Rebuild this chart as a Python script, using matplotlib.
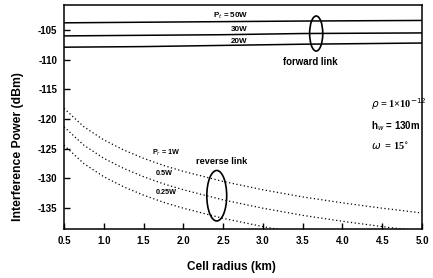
import numpy as np
import matplotlib.pyplot as plt
from matplotlib.patches import Ellipse

# forward link (solid lines)
r_fwd = [0.5, 1.5, 2.5, 3.5, 5.0]
fwd_50w = [-103.8, -103.7, -103.6, -103.5, -103.4]
fwd_30w = [-106.0, -105.9, -105.8, -105.6, -105.5]
fwd_20w = [-107.9, -107.8, -107.6, -107.4, -107.2]

# reverse link (dotted lines)
r_rev = [0.5, 0.75, 1.0, 1.25, 1.5, 1.75, 2.0, 2.5, 3.0, 3.5, 4.0, 4.5, 5.0]
rev_1w = [-118.2, -121.3, -123.5, -125.2, -126.6, -127.8, -128.8,
          -130.5, -131.9, -133.1, -134.1, -135.0, -135.8]
rev_05w = [-121.3, -124.4, -126.6, -128.3, -129.7, -130.9, -131.9,
           -133.6, -135.0, -136.2, -137.2, -138.1, -138.9]
rev_025w = [-124.4, -127.5, -129.7, -131.4, -132.8, -134.0, -135.0,
            -136.7, -138.1, -139.3, -140.3, -141.2, -142.0]

xticks = [0.5, 1.0, 1.5, 2.0, 2.5, 3.0, 3.5, 4.0, 4.5, 5.0]
yticks = [-105, -110, -115, -120, -125, -130, -135]

plt.rcParams['font.family'] = ['Liberation Sans', 'DejaVu Sans']
plt.rcParams['axes.unicode_minus'] = False

fig = plt.figure(figsize=(4.33, 2.78), dpi=100)
ax = fig.add_axes([64/433, 1-229/278, (422-64)/433, (229-5)/278])

for y in [fwd_50w, fwd_30w, fwd_20w]:
    ax.plot(r_fwd, y, color='black', lw=1.1)
for y in [rev_1w, rev_05w, rev_025w]:
    ax.plot(r_rev, y, color='black', lw=0.9, ls=(0, (1, 2)))

ax.set_xlim(0.5, 5.0)
ax.set_ylim(-138.5, -100.8)
ax.set_xticks(xticks)
ax.set_xticklabels(['%.1f' % v for v in xticks])
ax.set_yticks(yticks)
ax.tick_params(direction='in', length=4, width=1, labelsize=7, pad=5)
for lab in ax.get_xticklabels() + ax.get_yticklabels():
    lab.set_fontweight('bold')
for s in ax.spines.values():
    s.set_linewidth(1.1)

ax.set_xlabel('Cell radius (km)', fontsize=8.5, fontweight='bold')
ax.xaxis.set_label_coords(0.469, -0.143)
ax.set_ylabel('Interference Power (dBm)', fontsize=8.8, fontweight='bold')
ax.yaxis.set_label_coords(-0.112, 0.37)

# forward link labels
ax.text(2.37, -102.6, r'P$_t$ = 50W', fontsize=5.8, fontweight='bold', va='center')
ax.text(2.6, -104.9, '30W', fontsize=5.8, fontweight='bold', va='center')
ax.text(2.6, -107.0, '20W', fontsize=5.8, fontweight='bold', va='center')
ax.add_patch(Ellipse((3.67, -105.6), 0.165, 5.9, fill=False, lw=1.2, color='black'))
ax.text(3.6, -110.4, 'forward link', fontsize=6.9, fontweight='bold', ha='center', va='center')

# reverse link labels
ax.text(1.6, -125.7, r'P$_r$ = 1W', fontsize=5.2, fontweight='bold', va='center')
ax.text(1.65, -129.2, '0.5W', fontsize=5.2, fontweight='bold', va='center')
ax.text(1.65, -132.4, '0.25W', fontsize=5.2, fontweight='bold', va='center')
ax.add_patch(Ellipse((2.42, -132.9), 0.25, 8.5, fill=False, lw=1.2, color='black'))
ax.text(2.48, -127.1, 'reverse link', fontsize=6.6, fontweight='bold', ha='center', va='center')

# parameters
ax.text(4.36, -117.5, r'$\rho$ = 1×10$^{-12}$', fontsize=7.5, fontweight='bold',
        family='Liberation Serif', va='center')
ax.text(4.36, -121.2, r'h$_w$ = 130m', fontsize=7, fontweight='bold', va='center')
ax.text(4.36, -124.6, r'$\omega$  = 15$^{\circ}$', fontsize=7.5, fontweight='bold',
        family='Liberation Serif', va='center')

fig.savefig('out.png', dpi=100)
